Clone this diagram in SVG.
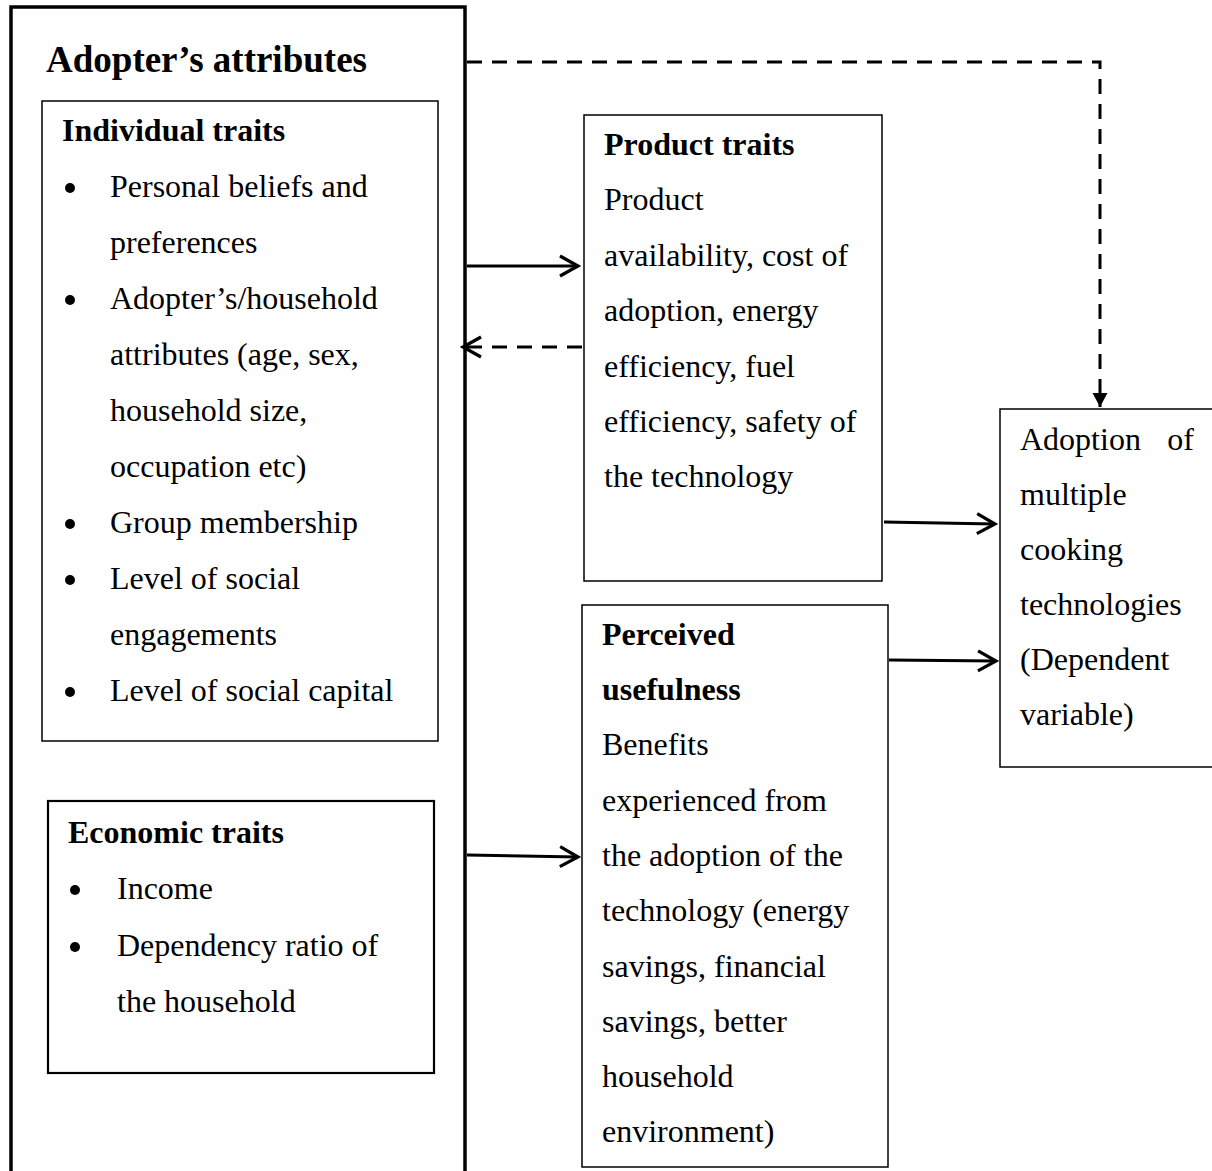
<svg xmlns="http://www.w3.org/2000/svg" width="1212" height="1171" viewBox="0 0 1212 1171">
<defs>
<style>
.t{font-family:"Liberation Serif","Times New Roman",serif;font-size:32px;fill:#000}
.b{font-weight:bold}
.title{font-family:"Liberation Serif","Times New Roman",serif;font-size:37px;font-weight:bold;fill:#000}
.box{fill:#fff;stroke:#000;stroke-width:1.5}
.bul{fill:#000}
.c{fill:none;stroke:#000;stroke-width:3}
.d{stroke-dasharray:15 10}
</style>
<marker id="open" viewBox="-22 -14 26 28" refX="0" refY="0" markerWidth="26" markerHeight="28" markerUnits="userSpaceOnUse" orient="auto">
<path d="M-18,-10 L0,0 L-18,10" fill="none" stroke="#000" stroke-width="3.2"/>
</marker>
<marker id="tri" viewBox="-16 -9 18 18" refX="0" refY="0" markerWidth="18" markerHeight="18" markerUnits="userSpaceOnUse" orient="auto">
<path d="M-14,-7.5 L0,0 L-14,7.5 Z" fill="#000"/>
</marker>
</defs>
<rect width="1212" height="1171" fill="#fff"/>

<g id="adopter-attributes">
<path d="M11,1180 V7 H465 V1180" fill="none" stroke="#000" stroke-width="3.5"/>
<text class="title" x="46" y="72">Adopter’s attributes</text>
</g>

<g id="individual-traits">
<rect class="box" x="42" y="101" width="396" height="640"/>
<text class="t b" x="62" y="141">Individual traits</text>
<circle class="bul" cx="70" cy="188" r="5"/>
<circle class="bul" cx="70" cy="300" r="5"/>
<circle class="bul" cx="70" cy="524" r="5"/>
<circle class="bul" cx="70" cy="580" r="5"/>
<circle class="bul" cx="70" cy="692" r="5"/>
<text class="t" x="110" y="197">Personal beliefs and</text>
<text class="t" x="110" y="253">preferences</text>
<text class="t" x="110" y="309">Adopter’s/household</text>
<text class="t" x="110" y="365">attributes (age, sex,</text>
<text class="t" x="110" y="421">household size,</text>
<text class="t" x="110" y="477">occupation etc)</text>
<text class="t" x="110" y="533">Group membership</text>
<text class="t" x="110" y="589">Level of social</text>
<text class="t" x="110" y="645">engagements</text>
<text class="t" x="110" y="701">Level of social capital</text>
</g>

<g id="economic-traits">
<rect class="box" x="48" y="801" width="386" height="272" style="stroke-width:2.2"/>
<text class="t b" x="68" y="843">Economic traits</text>
<circle class="bul" cx="75" cy="890" r="5"/>
<circle class="bul" cx="75" cy="947" r="5"/>
<text class="t" x="117" y="899">Income</text>
<text class="t" x="117" y="956">Dependency ratio of</text>
<text class="t" x="117" y="1012">the household</text>
</g>

<g id="product-traits">
<rect class="box" x="584" y="115" width="298" height="466"/>
<text class="t b" x="604" y="155">Product traits</text>
<text class="t" x="604" y="210">Product</text>
<text class="t" x="604" y="266">availability, cost of</text>
<text class="t" x="604" y="321">adoption, energy</text>
<text class="t" x="604" y="377">efficiency, fuel</text>
<text class="t" x="604" y="432">efficiency, safety of</text>
<text class="t" x="604" y="487">the technology</text>
</g>

<g id="perceived-usefulness">
<rect class="box" x="582" y="605" width="306" height="562"/>
<text class="t b" x="602" y="645">Perceived</text>
<text class="t b" x="602" y="700">usefulness</text>
<text class="t" x="602" y="755">Benefits</text>
<text class="t" x="602" y="811">experienced from</text>
<text class="t" x="602" y="866">the adoption of the</text>
<text class="t" x="602" y="921">technology (energy</text>
<text class="t" x="602" y="977">savings, financial</text>
<text class="t" x="602" y="1032">savings, better</text>
<text class="t" x="602" y="1087">household</text>
<text class="t" x="602" y="1142">environment)</text>
</g>

<g id="adoption">
<rect class="box" x="1000" y="409" width="214" height="358"/>
<text class="t" x="1020" y="450">Adoption<tspan x="1194" text-anchor="end">of</tspan></text>
<text class="t" x="1020" y="505">multiple</text>
<text class="t" x="1020" y="560">cooking</text>
<text class="t" x="1020" y="615">technologies</text>
<text class="t" x="1020" y="670">(Dependent</text>
<text class="t" x="1020" y="725">variable)</text>
</g>

<g id="connectors">
<path class="c" d="M467,266 H578" marker-end="url(#open)"/>
<path class="c d" d="M582,347 H463" marker-end="url(#open)"/>
<path class="c" d="M467,855 L578,857" marker-end="url(#open)"/>
<path class="c" d="M884,522 L995,524" marker-end="url(#open)"/>
<path class="c" d="M889,660 L996,661" marker-end="url(#open)"/>
<path class="c d" d="M467,62 H1100 V407" marker-end="url(#tri)"/>
</g>
</svg>
